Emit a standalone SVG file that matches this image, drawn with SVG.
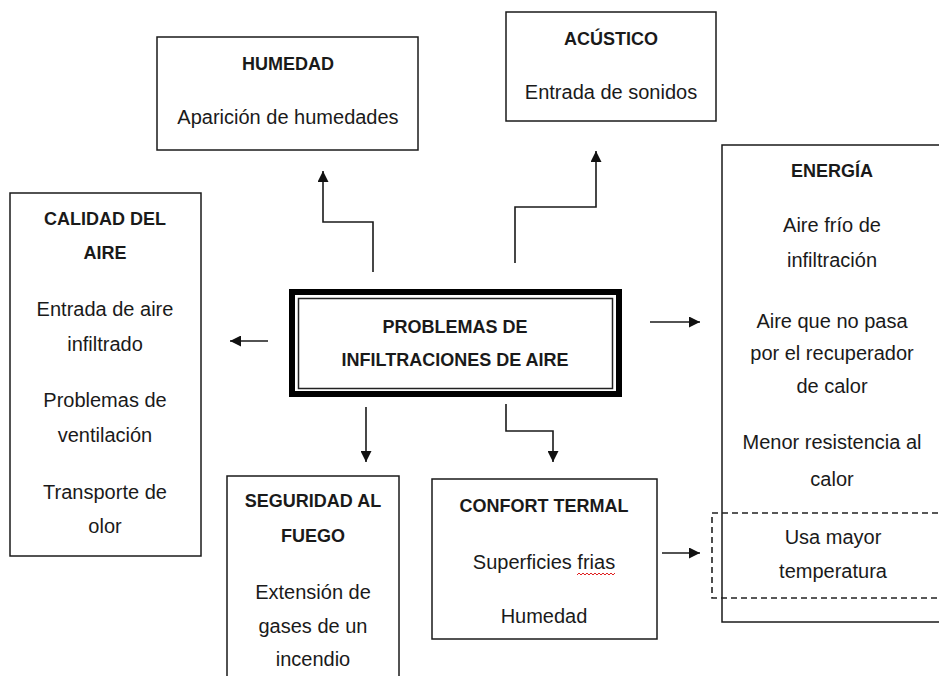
<svg xmlns="http://www.w3.org/2000/svg" width="939" height="676" viewBox="0 0 939 676">
<style>
.box{fill:#fff;stroke:#1a1a1a;stroke-width:1.5}
.t{font-family:"Liberation Sans",Arial,sans-serif;font-size:20px;fill:#1a1a1a;text-anchor:middle}
.b{font-family:"Liberation Sans",Arial,sans-serif;font-size:18px;font-weight:bold;fill:#1a1a1a;text-anchor:middle}
.c{fill:none;stroke:#1a1a1a;stroke-width:1.6}
</style>
<defs>
<marker id="ah" viewBox="0 0 10 10" refX="10" refY="5" markerWidth="11" markerHeight="11" markerUnits="userSpaceOnUse" orient="auto">
<path d="M0,0 L10,5 L0,10 z" fill="#111"/>
</marker>
</defs>
<rect width="939" height="676" fill="#fff"/>

<g id="connectors">
<path class="c" d="M373,272 V222 H323 V171" marker-end="url(#ah)"/>
<path class="c" d="M515,263 V207 H596 V151" marker-end="url(#ah)"/>
<path class="c" d="M268,341 H230" marker-end="url(#ah)"/>
<path class="c" d="M650,322 H700" marker-end="url(#ah)"/>
<path class="c" d="M366,407 V462" marker-end="url(#ah)"/>
<path class="c" d="M506,404 V431 H553 V462" marker-end="url(#ah)"/>
<path class="c" d="M662,553 H700" marker-end="url(#ah)"/>
</g>

<g id="humedad">
<rect class="box" x="157" y="37" width="261" height="113"/>
<text class="b" x="288" y="70">HUMEDAD</text>
<text class="t" x="288" y="124">Aparición de humedades</text>
</g>

<g id="acustico">
<rect class="box" x="506" y="12" width="210" height="109"/>
<text class="b" x="611" y="45">ACÚSTICO</text>
<text class="t" x="611" y="99">Entrada de sonidos</text>
</g>

<g id="calidad">
<rect class="box" x="10" y="193" width="191" height="363"/>
<text class="b" x="105" y="225">CALIDAD DEL</text>
<text class="b" x="105" y="259">AIRE</text>
<text class="t" x="105" y="316">Entrada de aire</text>
<text class="t" x="105" y="351">infiltrado</text>
<text class="t" x="105" y="407">Problemas de</text>
<text class="t" x="105" y="442">ventilación</text>
<text class="t" x="105" y="499">Transporte de</text>
<text class="t" x="105" y="533">olor</text>
</g>

<g id="problemas">
<rect x="292" y="292" width="327" height="102" fill="#fff" stroke="#000" stroke-width="6"/>
<rect x="298.5" y="298.5" width="314" height="90" fill="none" stroke="#222" stroke-width="1.5"/>
<text class="b" x="455" y="333">PROBLEMAS DE</text>
<text class="b" x="455" y="366">INFILTRACIONES DE AIRE</text>
</g>

<g id="energia">
<rect class="box" x="722" y="145" width="232" height="477"/>
<text class="b" x="832" y="177">ENERGÍA</text>
<text class="t" x="832" y="232">Aire frío de</text>
<text class="t" x="832" y="267">infiltración</text>
<text class="t" x="832" y="328">Aire que no pasa</text>
<text class="t" x="832" y="360">por el recuperador</text>
<text class="t" x="832" y="393">de calor</text>
<text class="t" x="832" y="449">Menor resistencia al</text>
<text class="t" x="832" y="486">calor</text>
</g>

<g id="usa-mayor">
<rect x="712" y="513" width="245" height="85" fill="none" stroke="#222" stroke-width="1.6" stroke-dasharray="6 4"/>
<text class="t" x="833" y="544">Usa mayor</text>
<text class="t" x="833" y="578">temperatura</text>
</g>

<g id="seguridad">
<rect class="box" x="227" y="476" width="172" height="220"/>
<text class="b" x="313" y="507">SEGURIDAD AL</text>
<text class="b" x="313" y="542">FUEGO</text>
<text class="t" x="313" y="599">Extensión de</text>
<text class="t" x="313" y="633">gases de un</text>
<text class="t" x="313" y="666">incendio</text>
</g>

<g id="confort">
<rect class="box" x="432" y="479" width="225" height="160"/>
<text class="b" x="544" y="512">CONFORT TERMAL</text>
<text class="t" x="544" y="569">Superficies frias</text>
<path d="M577,575 l2,-2 l2,2 l2,-2 l2,2 l2,-2 l2,2 l2,-2 l2,2 l2,-2 l2,2 l2,-2 l2,2 l2,-2 l2,2 l2,-2 l2,2 l2,-2 l2,2 l2,-2" fill="none" stroke="#e02020" stroke-width="1"/>
<text class="t" x="544" y="623">Humedad</text>
</g>
</svg>
